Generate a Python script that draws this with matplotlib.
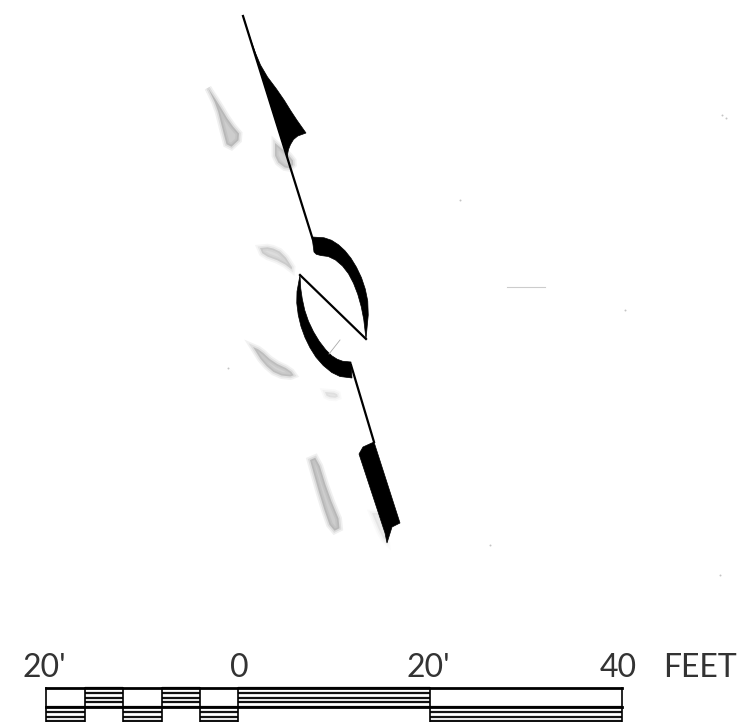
import matplotlib
matplotlib.use("Agg")
import matplotlib.pyplot as plt

# everything below is in image pixels
wedge_outer = [(243, 16), (253, 47), (263, 71), (281, 95), (294, 116), (306, 133)]
wedge_inner = [(306, 133), (295, 137), (289, 147), (287, 157)]
arc_upper_outer = [(312, 237), (328, 238), (342, 247), (354, 262), (364, 283), (369, 307), (366, 339)]
arc_upper_inner = [(366, 339), (363, 313), (356, 288), (346, 269), (332, 257), (317, 255), (314, 252)]
arc_lower_outer = [(300, 275), (296, 297), (299, 321), (307, 343), (319, 362), (336, 376), (352, 378)]
arc_lower_inner = [(351, 362), (340, 361), (329, 354), (316, 337), (306, 316), (301, 293), (300, 275)]
block = [(359, 454), (363, 447), (374, 442), (400, 523), (392, 527), (387, 543), (385, 533)]
center_line_1 = [(243, 16), (313, 240)]
center_line_2 = [(300, 275), (366, 339)]
center_line_3 = [(351, 365), (374, 442)]
faint_line = [(329, 354), (340, 340)]

smudges = [
    [(208, 88), (217, 107), (222, 127), (228, 150), (242, 137), (230, 123), (218, 103)],
    [(275, 143), (275, 160), (288, 170), (295, 163), (287, 153)],
    [(260, 248), (263, 255), (282, 262), (295, 272), (283, 253), (270, 247)],
    [(253, 347), (263, 363), (277, 375), (295, 377), (290, 370), (273, 362), (260, 350)],
    [(325, 392), (327, 397), (338, 398), (337, 393)],
    [(310, 460), (317, 457), (328, 493), (342, 527), (332, 532), (322, 503)],
    [(372, 513), (380, 513), (388, 543), (382, 537)],
]
smudge_strength = [1.0, 0.9, 0.7, 0.9, 0.4, 1.0, 0.3]
speck_x = [722, 726, 460, 625, 720, 228, 490]
speck_y = [115, 118, 200, 310, 575, 368, 545]

bar_edges = [46, 85, 123, 162, 200, 238, 430, 622]
bar_labels = ["20'", "0", "20'", "40", "FEET"]
label_x = [23, 230, 406, 600, 663]


def smooth(points, rounds=1):
    # corner cutting, end points stay where they are
    for _ in range(rounds):
        new = [points[0]]
        for (x0, y0), (x1, y1) in zip(points[:-1], points[1:]):
            new.append((0.75 * x0 + 0.25 * x1, 0.75 * y0 + 0.25 * y1))
            new.append((0.25 * x0 + 0.75 * x1, 0.25 * y0 + 0.75 * y1))
        new.append(points[-1])
        points = new
    return points


fig = plt.figure(figsize=(7.44, 7.22), dpi=100)
ax = fig.add_axes([0, 0, 1, 1])
ax.set_xlim(0, 744)
ax.set_ylim(722, 0)
ax.axis("off")

# soft grey ghost marks from the back of the page
for s, k in zip(smudges, smudge_strength):
    xs, ys = zip(*smooth(s + [s[0]]))
    ax.fill(xs, ys, facecolor="none", edgecolor="#888888", alpha=0.12 * k, lw=5)
    ax.fill(xs, ys, facecolor="none", edgecolor="#888888", alpha=0.18 * k, lw=2.5)
    ax.fill(xs, ys, color="#7c7c7c", alpha=0.38 * k, lw=0)
ax.scatter(speck_x, speck_y, s=2, color="#c4c4c4", lw=0)

shapes = [
    smooth(wedge_outer) + smooth(wedge_inner),
    smooth(arc_upper_outer) + smooth(arc_upper_inner),
    smooth(arc_lower_outer) + smooth(arc_lower_inner),
    block,
]
for shape in shapes:
    ax.fill(*zip(*shape), color="black", lw=0.5)
for seg in [center_line_1, center_line_2, center_line_3]:
    ax.plot(*zip(*seg), color="black", lw=1.6)
ax.plot(*zip(*faint_line), color="#aaaaaa", lw=0.6)
ax.plot([507, 545], [287, 287], color="#cccccc", lw=0.8)

# scale bar
bar_top, bar_mid, bar_bot = 688, 707, 726
for x, label in zip(label_x, bar_labels):
    ax.text(x, 677, label, fontsize=23, family="Lato", fontweight="normal",
            ha="left", va="baseline", color="#333333")


def hatch(x0, x1, y0, y1):
    for i in range(5):
        y = y0 + (y1 - y0) * i / 4
        ax.plot([x0, x1], [y, y], color="#111111", lw=1.6, solid_capstyle="butt")


for i in range(len(bar_edges) - 1):
    if i % 2 == 1:
        hatch(bar_edges[i], bar_edges[i + 1], bar_top, bar_mid)
    else:
        hatch(bar_edges[i], bar_edges[i + 1], bar_mid, bar_bot)
ax.plot([46, 622], [bar_top, bar_top], color="black", lw=2)
ax.plot([46, 622], [bar_mid, bar_mid], color="black", lw=2)
for x in bar_edges:
    ax.plot([x, x], [bar_top, 722], color="black", lw=1.2)

fig.savefig("out.png", dpi=100)
